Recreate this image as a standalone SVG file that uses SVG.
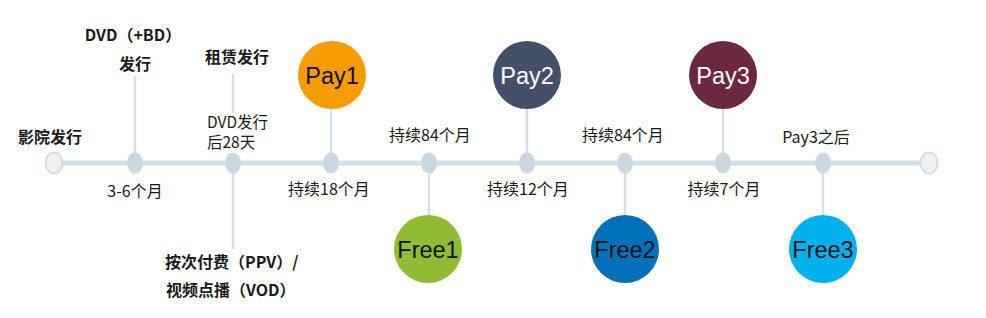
<svg xmlns="http://www.w3.org/2000/svg" width="986" height="318" viewBox="0 0 986 318">
<style>
.lbl{font-family:"Noto Sans CJK SC","Liberation Sans",sans-serif;font-size:16px;fill:#1a1a1a}
.b{font-weight:bold;font-size:16px}
.s{font-size:15.5px}
.c{font-family:"Liberation Sans",Arial,sans-serif;font-size:23.5px;text-anchor:middle}
.dark{fill:#111}
.light{fill:#ffffff}
.vl{stroke:#d5e1e8;stroke-width:2.5;fill:none}
.dot{fill:#cbd8e0}
.end{fill:#f2f0ee;stroke:#d2dee6;stroke-width:2}
.m{text-anchor:middle}
</style>
<rect width="986" height="318" fill="#ffffff"/>
<g id="connectors">
<line x1="54" y1="163" x2="929" y2="163" stroke="#d5e1e8" stroke-width="5"/>
<line class="vl" x1="135" y1="76" x2="135" y2="163"/>
<line class="vl" x1="233" y1="74" x2="233" y2="113"/>
<line class="vl" x1="233" y1="163" x2="233" y2="249"/>
<line class="vl" x1="331" y1="108" x2="331" y2="163"/>
<line class="vl" x1="527" y1="108" x2="527" y2="163"/>
<line class="vl" x1="723" y1="108" x2="723" y2="163"/>
<line class="vl" x1="429" y1="163" x2="429" y2="216"/>
<line class="vl" x1="625" y1="163" x2="625" y2="216"/>
<line class="vl" x1="823" y1="163" x2="823" y2="216"/>
</g>
<g id="start"><ellipse class="end" cx="54" cy="163" rx="8.5" ry="10.5"/><text class="lbl b m" x="50" y="143">影院发行</text></g>
<g id="dvd"><ellipse class="dot" cx="135" cy="163" rx="8" ry="10.5"/><text class="lbl b m" x="133" y="41">DVD（+BD）</text><text class="lbl b m" x="135" y="70">发行</text><text class="lbl m" x="135" y="197">3-6个月</text></g>
<g id="rental"><ellipse class="dot" cx="233" cy="163" rx="8" ry="10.5"/><text class="lbl b m" x="237" y="63">租赁发行</text><text class="lbl s" x="207" y="128">DVD发行</text><text class="lbl s" x="207" y="148">后28天</text><text class="lbl b" x="165" y="268">按次付费（PPV）/</text><text class="lbl b" x="166" y="296">视频点播（VOD）</text></g>
<g id="pay1"><ellipse class="dot" cx="331" cy="163" rx="8" ry="10.5"/><circle cx="332" cy="75" r="34" fill="#f59c00"/><text class="c dark" x="332" y="84">Pay1</text><text class="lbl m" x="329" y="195">持续18个月</text></g>
<g id="free1"><ellipse class="dot" cx="429" cy="163" rx="8" ry="10.5"/><circle cx="428" cy="249" r="34" fill="#8fbc33"/><text class="c dark" x="428" y="258">Free1</text><text class="lbl m" x="430" y="141">持续84个月</text></g>
<g id="pay2"><ellipse class="dot" cx="527" cy="163" rx="8" ry="10.5"/><circle cx="527" cy="75" r="34" fill="#435066"/><text class="c light" x="527" y="84">Pay2</text><text class="lbl m" x="528" y="195">持续12个月</text></g>
<g id="free2"><ellipse class="dot" cx="625" cy="163" rx="8" ry="10.5"/><circle cx="625" cy="249" r="34" fill="#0071b9"/><text class="c dark" x="625" y="258">Free2</text><text class="lbl m" x="623" y="141">持续84个月</text></g>
<g id="pay3"><ellipse class="dot" cx="723" cy="163" rx="8" ry="10.5"/><circle cx="723" cy="75" r="34" fill="#6b2941"/><text class="c light" x="723" y="84">Pay3</text><text class="lbl m" x="724" y="195">持续7个月</text></g>
<g id="free3"><ellipse class="dot" cx="823" cy="163" rx="8" ry="10.5"/><circle cx="823" cy="249" r="34" fill="#00b1ee"/><text class="c dark" x="823" y="258">Free3</text><text class="lbl m" x="816" y="143">Pay3之后</text></g>
<g id="end"><ellipse class="end" cx="929" cy="163" rx="8.5" ry="10.5"/></g>
</svg>
